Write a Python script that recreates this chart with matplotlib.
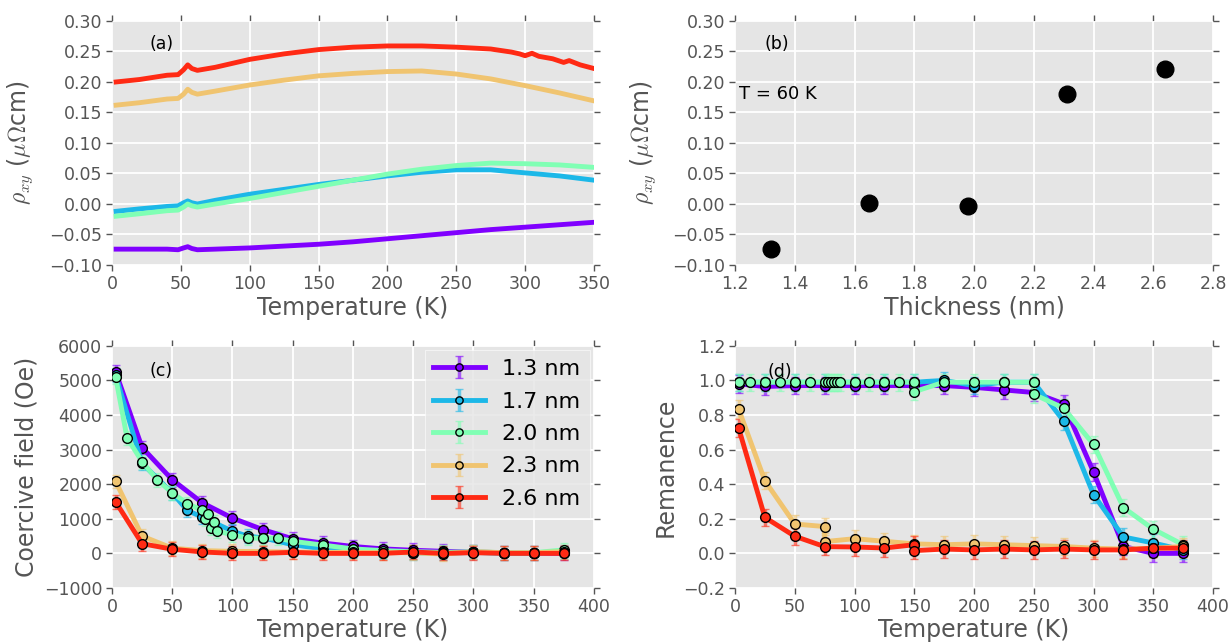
import numpy as np
import matplotlib
matplotlib.use('Agg')
import matplotlib.pyplot as plt

# (a) rho_xy vs temperature
T_a = [3, 20, 40, 48, 52, 55, 58, 62, 75, 100, 125, 150, 175, 200, 225, 250, 275, 300, 325, 350]
T_a_red = [3, 20, 40, 48, 52, 55, 58, 62, 75, 100, 125, 150, 175, 200, 225, 250, 275, 290, 296,
           300, 305, 310, 320, 328, 332, 340, 350]
rho_13 = [-0.074, -0.074, -0.074, -0.075, -0.072, -0.070, -0.073, -0.075, -0.074, -0.072, -0.069,
          -0.066, -0.062, -0.057, -0.052, -0.047, -0.042, -0.038, -0.034, -0.030]
rho_17 = [-0.012, -0.008, -0.004, -0.003, 0.002, 0.005, 0.002, 0.000, 0.006, 0.016, 0.024, 0.032,
          0.039, 0.046, 0.052, 0.056, 0.056, 0.051, 0.046, 0.039]
rho_20 = [-0.020, -0.016, -0.011, -0.010, -0.005, 0.000, -0.003, -0.005, 0.000, 0.009, 0.019, 0.029,
          0.039, 0.049, 0.057, 0.063, 0.067, 0.066, 0.064, 0.060]
rho_23 = [0.162, 0.166, 0.172, 0.173, 0.180, 0.188, 0.183, 0.180, 0.185, 0.195, 0.203, 0.210,
          0.214, 0.217, 0.218, 0.213, 0.205, 0.194, 0.182, 0.169]
rho_26 = [0.200, 0.204, 0.211, 0.212, 0.220, 0.228, 0.222, 0.219, 0.224, 0.237, 0.246, 0.253,
          0.257, 0.259, 0.259, 0.257, 0.254, 0.249, 0.246, 0.243, 0.247, 0.242, 0.238, 0.232,
          0.235, 0.228, 0.222]

# (b) rho_xy at 60 K vs thickness
thickness = [1.32, 1.65, 1.98, 2.31, 2.64]
rho_60K = [-0.073, 0.002, -0.004, 0.180, 0.221]

# (c) coercive field
Tc = [3, 25, 50, 75, 100, 125, 150, 175, 200, 225, 250, 275, 300, 325, 350, 375]
Tc_17 = [3, 25, 50, 62.5, 75, 100, 112.5, 125, 150, 175, 200, 225, 250, 275, 300, 325, 350, 375]
Tc_20 = [3, 12.5, 25, 37.5, 50, 62.5, 75, 77.5, 80, 82.5, 85, 87.5, 100, 112.5, 125, 137.5, 150,
         175, 200, 225, 250, 275, 300, 325, 350, 375]
Hc_13 = [5250, 3060, 2130, 1460, 1020, 690, 420, 300, 200, 130, 90, 60, 40, 20, 10, 0]
Hc_17 = [5150, 2600, 1750, 1240, 1050, 640, 500, 450, 250, 130, 60, 30, 20, 0, 30, 0, 0, 50]
Hc_20 = [5100, 3340, 2650, 2130, 1750, 1440, 1240, 980, 1140, 740, 900, 640, 540, 440, 440, 440,
         350, 240, 130, 80, 50, 30, 50, 20, 20, 100]
Hc_23 = [2080, 500, 150, 80, 60, 50, 40, 30, 30, 20, 20, -20, 50, 20, 20, 50]
Hc_26 = [1490, 280, 120, 40, 0, 0, 30, 0, 0, 0, 40, 0, 20, 0, 0, 0]

# (d) remanence
Td = [3, 25, 50, 75, 100, 125, 150, 175, 200, 225, 250, 275, 300, 325, 350, 375]
Td_20 = [3, 12.5, 25, 37.5, 50, 62.5, 75, 77.5, 80, 82.5, 85, 87.5, 100, 112.5, 125, 137.5, 150,
         150, 175, 200, 225, 250, 250, 275, 300, 325, 350, 375]
Td_23 = [3, 25, 50, 75, 75, 100, 125, 150, 175, 200, 225, 250, 275, 300, 325, 350, 375]
Td_26 = [3, 25, 50, 75, 100, 125, 150, 150, 175, 200, 225, 250, 275, 300, 325, 350, 375]
M_13 = [0.98, 0.965, 0.97, 0.97, 0.97, 0.97, 0.97, 0.97, 0.96, 0.945, 0.93, 0.865, 0.47, 0.04, 0.0, 0.0]
M_17 = [0.99, 0.99, 0.99, 0.99, 0.99, 0.99, 0.99, 1.0, 0.97, 0.99, 0.99, 0.765, 0.34, 0.095, 0.06, 0.02]
M_20 = [0.99, 0.99, 0.99, 0.99, 0.99, 0.99, 0.99, 0.99, 0.99, 0.99, 0.99, 0.99, 0.99, 0.99, 0.99,
        0.99, 0.99, 0.935, 0.99, 0.99, 0.99, 0.99, 0.92, 0.84, 0.63, 0.265, 0.14, 0.05]
M_23 = [0.835, 0.42, 0.17, 0.155, 0.068, 0.085, 0.07, 0.055, 0.05, 0.055, 0.05, 0.045, 0.04, 0.03,
        0.025, 0.03, 0.04]
M_26 = [0.725, 0.208, 0.099, 0.039, 0.037, 0.031, 0.05, 0.016, 0.025, 0.02, 0.025, 0.02, 0.025,
        0.02, 0.02, 0.03, 0.03]

labels = ['1.3 nm', '1.7 nm', '2.0 nm', '2.3 nm', '2.6 nm']
colors = ['#8000ff', '#1cb8e8', '#80ffb4', '#f0c470', '#ff2a14']

plt.style.use('ggplot')
plt.rcParams['mathtext.fontset'] = 'cm'
plt.rcParams['font.family'] = ['DejaVu Sans']
plt.rcParams['axes.unicode_minus'] = True

fig = plt.figure(figsize=(12.32, 6.44), dpi=100)
ax_a = fig.add_axes([0.0909, 0.5885, 0.3912, 0.379])
ax_b = fig.add_axes([0.5966, 0.5885, 0.3880, 0.379])
ax_c = fig.add_axes([0.0909, 0.087, 0.3912, 0.376])
ax_d = fig.add_axes([0.5966, 0.087, 0.3880, 0.376])


def style(ax):
    ax.set_facecolor('#E5E5E5')
    for s in ax.spines.values():
        s.set_visible(False)
    ax.grid(True, color='white', linewidth=1.3)
    ax.set_axisbelow(True)
    ax.tick_params(direction='out', length=4, width=1, colors='#555555',
                   labelsize=12.5, top=True, right=True, pad=3)


# (a)
ax_a.plot(T_a, rho_13, color=colors[0], lw=3.5)
ax_a.plot(T_a, rho_17, color=colors[1], lw=3.5)
ax_a.plot(T_a, rho_20, color=colors[2], lw=3.5)
ax_a.plot(T_a, rho_23, color=colors[3], lw=3.5)
ax_a.plot(T_a_red, rho_26, color=colors[4], lw=3.5)
ax_a.set_xlim(0, 350)
ax_a.set_ylim(-0.10, 0.30)
ax_a.set_xticks(np.arange(0, 351, 50))
ax_a.set_yticks(np.linspace(-0.10, 0.30, 9))
ax_a.set_xlabel('Temperature (K)', fontsize=17, color='#555555', labelpad=2)
ax_a.set_ylabel(r'$\rho_{xy}$ ($\mu\Omega$cm)', fontsize=17, color='#555555', labelpad=10)
ax_a.text(27, 0.262, '(a)', fontsize=12.5, va='center')
style(ax_a)

# (b)
ax_b.plot(thickness, rho_60K, 'o', color='black', ms=12)
ax_b.set_xlim(1.2, 2.8)
ax_b.set_ylim(-0.10, 0.30)
ax_b.set_xticks(np.linspace(1.2, 2.8, 9))
ax_b.set_yticks(np.linspace(-0.10, 0.30, 9))
ax_b.set_xlabel('Thickness (nm)', fontsize=17, color='#555555', labelpad=2)
ax_b.set_ylabel(r'$\rho_{xy}$ ($\mu\Omega$cm)', fontsize=17, color='#555555', labelpad=10)
ax_b.text(1.30, 0.262, '(b)', fontsize=12.5, va='center')
ax_b.text(1.215, 0.181, 'T = 60 K', fontsize=13, va='center')
style(ax_b)


def err(ax, x, y, e, c, label=None):
    line, caps, bars = ax.errorbar(x, y, yerr=e, color=c, lw=3.5, marker='o', ms=7,
                                   mfc=c, mec='black', mew=1, elinewidth=2.5, capsize=3,
                                   capthick=2, label=label)
    for cp in caps:
        cp.set_alpha(0.6)
    for b in bars:
        b.set_alpha(0.6)


# (c)
err(ax_c, Tc, Hc_13, 200, colors[0], labels[0])
err(ax_c, Tc_17, Hc_17, 200, colors[1], labels[1])
err(ax_c, Tc_20, Hc_20, 200, colors[2], labels[2])
err(ax_c, Tc, Hc_23, 200, colors[3], labels[3])
err(ax_c, Tc, Hc_26, 200, colors[4], labels[4])
ax_c.set_xlim(0, 400)
ax_c.set_ylim(-1000, 6000)
ax_c.set_xticks(np.arange(0, 401, 50))
ax_c.set_yticks(np.arange(-1000, 6001, 1000))
ax_c.set_xlabel('Temperature (K)', fontsize=17, color='#555555', labelpad=2)
ax_c.set_ylabel('Coercive field (Oe)', fontsize=17, color='#555555')
ax_c.text(31, 5280, '(c)', fontsize=12.5, va='center')
leg = ax_c.legend(loc='upper right', fontsize=16, handlelength=2.3, labelspacing=0.56,
                  borderaxespad=0.2, fancybox=False, framealpha=0.8, markerscale=0.75)
leg.get_frame().set_facecolor('#E5E5E5')
leg.get_frame().set_edgecolor('white')
style(ax_c)

# (d)
err(ax_d, Td, M_13, 0.05, colors[0])
err(ax_d, Td, M_17, 0.05, colors[1])
err(ax_d, Td_20, M_20, 0.05, colors[2])
err(ax_d, Td_23, M_23, 0.05, colors[3])
err(ax_d, Td_26, M_26, 0.05, colors[4])
ax_d.set_xlim(0, 400)
ax_d.set_ylim(-0.2, 1.2)
ax_d.set_xticks(np.arange(0, 401, 50))
ax_d.set_yticks(np.linspace(-0.2, 1.2, 8))
ax_d.set_xlabel('Temperature (K)', fontsize=17, color='#555555', labelpad=2)
ax_d.set_ylabel('Remanence', fontsize=17, color='#555555')
ax_d.text(27, 1.05, '(d)', fontsize=12.5, va='center')
style(ax_d)

fig.savefig('out.png', dpi=100, facecolor='white')
